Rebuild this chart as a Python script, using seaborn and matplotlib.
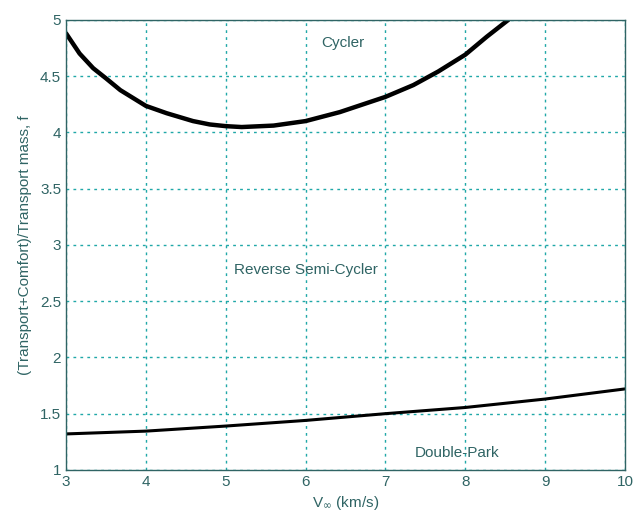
import numpy as np
import pandas as pd
import matplotlib
matplotlib.use("Agg")
import matplotlib.pyplot as plt
import seaborn as sns

# values
cycler_v = [3.0, 3.17, 3.34, 3.5, 3.68, 4.0, 4.26, 4.59, 4.8, 5.0, 5.2,
            5.6, 6.0, 6.43, 7.0, 7.35, 7.66, 8.0, 8.27, 8.54]
cycler_f = [4.88, 4.70, 4.57, 4.48, 4.375, 4.235, 4.17, 4.10, 4.07, 4.055, 4.047,
            4.06, 4.10, 4.18, 4.315, 4.42, 4.54, 4.69, 4.85, 5.0]
park_v = [3, 4, 5, 6, 7, 8, 9, 10]
park_f = [1.32, 1.345, 1.39, 1.44, 1.50, 1.555, 1.63, 1.72]

xticks = [3, 4, 5, 6, 7, 8, 9, 10]
yticks = [1, 1.5, 2, 2.5, 3, 3.5, 4, 4.5, 5]
ytick_labels = ["1", "1.5", "2", "2.5", "3", "3.5", "4", "4.5", "5"]

region_labels = ["Cycler", "Reverse Semi-Cycler", "Double-Park"]
region_x = [6.47, 6.0, 7.9]
region_y = [4.79, 2.78, 1.15]

sns.set_style("white")
plt.rcParams['font.family'] = ['Liberation Sans', 'DejaVu Sans']

text_col = "#2f6464"
grid_col = "#20a8a8"

df_c = pd.DataFrame({"v": cycler_v, "f": cycler_f})
df_p = pd.DataFrame({"v": park_v, "f": park_f})

fig = plt.figure(figsize=(6.41, 5.21), dpi=100)
ax = fig.add_axes([0.103, 0.098, 0.872, 0.864])

sns.lineplot(data=df_c, x="v", y="f", ax=ax, color="black", linewidth=3.2,
             estimator=None, sort=False, solid_capstyle="round", solid_joinstyle="round")
sns.lineplot(data=df_p, x="v", y="f", ax=ax, color="black", linewidth=2.2,
             estimator=None, sort=False)

ax.set_xlim(3, 10)
ax.set_ylim(1, 5)
ax.set_xticks(xticks)
ax.set_yticks(yticks)
ax.set_yticklabels(ytick_labels)
ax.grid(True, color=grid_col, linestyle=(0, (2, 3)), linewidth=1.0)
ax.set_axisbelow(True)

for s in ax.spines.values():
    s.set_color(text_col)
    s.set_linewidth(1.0)

ax.tick_params(axis="both", colors=text_col, labelsize=11, direction="in", length=4)
ax.set_xlabel(r"V$_\infty$ (km/s)", color=text_col, fontsize=11, labelpad=4)
ax.set_ylabel("(Transport+Comfort)/Transport mass, f", color=text_col, fontsize=11, labelpad=6)

for lab, x, y in zip(region_labels, region_x, region_y):
    ax.text(x, y, lab, color=text_col, fontsize=11, ha="center", va="center")

fig.savefig("out.png", dpi=100)
